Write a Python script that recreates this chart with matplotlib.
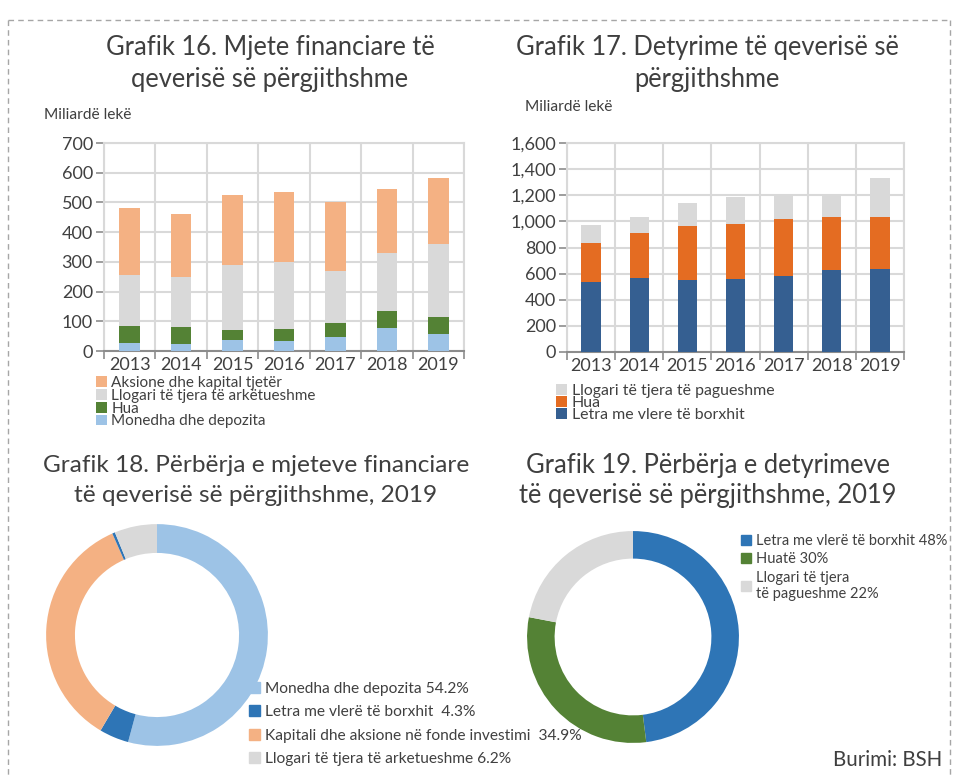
import numpy as np
import matplotlib.pyplot as plt
from matplotlib.patches import Patch
from matplotlib.lines import Line2D

plt.rcParams['font.family'] = ['Lato', 'DejaVu Sans']
plt.rcParams['font.weight'] = 'normal'

TXT = '#404040'
GRID = '#D9D9D9'

years = ['2013', '2014', '2015', '2016', '2017', '2018', '2019']

# Grafik 16 - mjete financiare (miliarde leke)
monedha = [27, 22, 37, 34, 47, 77, 56]
hua_mjete = [57, 59, 34, 40, 48, 57, 58]
llogari_ark = [171, 168, 219, 224, 173, 196, 245]
aksione = [225, 212, 235, 237, 235, 215, 224]

# Grafik 17 - detyrime (miliarde leke)
letra = [538, 566, 554, 559, 582, 625, 635]
hua_det = [294, 342, 408, 423, 433, 406, 398]
llogari_pag = [140, 123, 178, 204, 192, 160, 301]

# Grafik 18 - perberja e mjeteve 2019 (%)
pie18_labels = ['Monedha dhe depozita 54.2%', 'Letra me vlerë të borxhit  4.3%',
                'Kapitali dhe aksione në fonde investimi  34.9%', None,
                'Llogari të tjera të arketueshme 6.2%']
pie18_vals = [54.2, 4.3, 34.9, 0.4, 6.2]
pie18_cols = ['#9DC3E6', '#2E75B6', '#F4B183', '#2E75B6', '#D9D9D9']

# Grafik 19 - perberja e detyrimeve 2019 (%)
pie19_labels = ['Letra me vlerë të borxhit 48%', 'Huatë 30%',
                'Llogari të tjera\ntë pagueshme 22%']
pie19_vals = [48, 30, 22]
pie19_cols = ['#2E75B6', '#548235', '#D9D9D9']

W, H = 958, 778
fig = plt.figure(figsize=(W / 100, H / 100), dpi=100)


def px_axes(x0, y0, x1, y1):
    # pixel box (top-left origin) -> figure axes
    return fig.add_axes([x0 / W, 1 - y1 / H, (x1 - x0) / W, (y1 - y0) / H])


def title(x, y, s, size=18.4):
    fig.text(x / W, 1 - y / H, s, ha='center', va='center', fontsize=size, color='#3F3F3F')


def bar_chart(ax, series, colors, ymax, ystep, fmt):
    x = np.arange(len(years))
    bottom = np.zeros(len(years))
    bars = []
    for vals, c in zip(series, colors):
        b = ax.bar(x, vals, 0.4, bottom=bottom, color=c, zorder=3)
        bars.append(b)
        bottom += np.array(vals)
    ax.set_xlim(-0.5, len(years) - 0.5)
    ax.set_ylim(0, ymax)
    ax.set_yticks(np.arange(0, ymax + 1, ystep))
    ax.set_yticklabels([fmt.format(v) for v in np.arange(0, ymax + 1, ystep)])
    ax.set_xticks(x)
    ax.set_xticklabels(years)
    ax.set_xticks(np.arange(-0.5, len(years), 1), minor=True)
    ax.tick_params(axis='x', which='major', length=0, pad=4, labelsize=13, colors=TXT)
    ax.tick_params(axis='x', which='minor', length=6, width=1.2, color='#8C8C8C')
    ax.tick_params(axis='y', length=6, width=1.2, color='#8C8C8C', labelsize=13,
                   labelcolor=TXT, pad=2)
    ax.grid(True, axis='y', color=GRID, lw=1.5, zorder=0)
    ax.grid(True, axis='x', which='minor', color=GRID, lw=1.5, zorder=0)
    for s in ['left', 'top', 'right']:
        ax.spines[s].set_color(GRID)
        ax.spines[s].set_linewidth(1.5)
    ax.spines['bottom'].set_color('#8C8C8C')
    ax.spines['bottom'].set_linewidth(1.5)
    return bars


def legend_at(handles, labels, x, y, size, spacing):
    leg = fig.legend(handles, labels, loc='upper left', bbox_to_anchor=(x / W, 1 - y / H),
                     frameon=False, fontsize=size, handlelength=0.7, handleheight=0.7,
                     handletextpad=0.3, labelspacing=spacing, borderaxespad=0, borderpad=0)
    for t in leg.get_texts():
        t.set_color(TXT)
    return leg


# --- Grafik 16 ---
ax16 = px_axes(104, 143, 464, 351)
b16 = bar_chart(ax16, [monedha, hua_mjete, llogari_ark, aksione],
                ['#9DC3E6', '#548235', '#D9D9D9', '#F4B183'], 700, 100, '{:.0f}')
title(270, 48, 'Grafik 16. Mjete financiare të')
title(270, 80, 'qeverisë së përgjithshme')
fig.text(44 / W, 1 - 115 / H, 'Miliardë lekë', ha='left', va='center', fontsize=11.2, color=TXT)
legend_at(b16[::-1], ['Aksione dhe kapital tjetër', 'Llogari të tjera të arkëtueshme',
                      'Hua', 'Monedha dhe depozita'], 96, 376, 11, -0.08)

# --- Grafik 17 ---
ax17 = px_axes(567, 143, 904, 352)
b17 = bar_chart(ax17, [letra, hua_det, llogari_pag],
                ['#355F91', '#E46C22', '#D9D9D9'], 1600, 200, '{:,.0f}')
title(707, 48, 'Grafik 17. Detyrime të qeverisë së')
title(707, 80, 'përgjithshme')
fig.text(525 / W, 1 - 107 / H, 'Miliardë lekë', ha='left', va='center', fontsize=11.2, color=TXT)
legend_at(b17[::-1], ['Llogari të tjera të pagueshme', 'Hua', 'Letra me vlere të borxhit'],
          556, 384, 11.4, -0.12)


def donut(ax, vals, cols):
    ax.pie(vals, colors=cols, startangle=90, counterclock=False,
           wedgeprops=dict(width=0.26, edgecolor='none'))
    ax.set_xlim(-1.01, 1.01)
    ax.set_ylim(-1.01, 1.01)
    ax.set_aspect('equal')


# --- Grafik 18 ---
ax18 = px_axes(45, 523, 269, 747)
donut(ax18, pie18_vals, pie18_cols)
title(256, 465, 'Grafik 18. Përbërja e mjeteve financiare', 17.6)
title(256, 495, 'të qeverisë së përgjithshme, 2019', 17.6)
h18 = [Patch(color=c) for c, l in zip(pie18_cols, pie18_labels) if l]
l18 = [l for l in pie18_labels if l]
legend_at(h18, l18, 249, 682, 11.2, 0.6)

# --- Grafik 19 ---
ax19 = px_axes(526, 530, 740, 744)
donut(ax19, pie19_vals, pie19_cols)
title(708, 465, 'Grafik 19. Përbërja e detyrimeve')
title(708, 495, 'të qeverisë së përgjithshme, 2019')
h19 = [Patch(color=c) for c in pie19_cols]
legend_at(h19, pie19_labels, 741, 534, 10.5, 0.3)

fig.text(942 / W, 1 - 760 / H, 'Burimi: BSH', ha='right', va='center', fontsize=14.8,
         color='#3F3F3F')

# dashed frame
frame = dict(color='#A6A6A6', lw=1, ls=(0, (4, 3)), transform=fig.transFigure)
fig.add_artist(Line2D([8 / W, 950 / W], [1 - 20 / H, 1 - 20 / H], **frame))
fig.add_artist(Line2D([8 / W, 8 / W], [1 - 20 / H, 0], **frame))
fig.add_artist(Line2D([950 / W, 950 / W], [1 - 20 / H, 0], **frame))

fig.savefig('out.png', dpi=100)
